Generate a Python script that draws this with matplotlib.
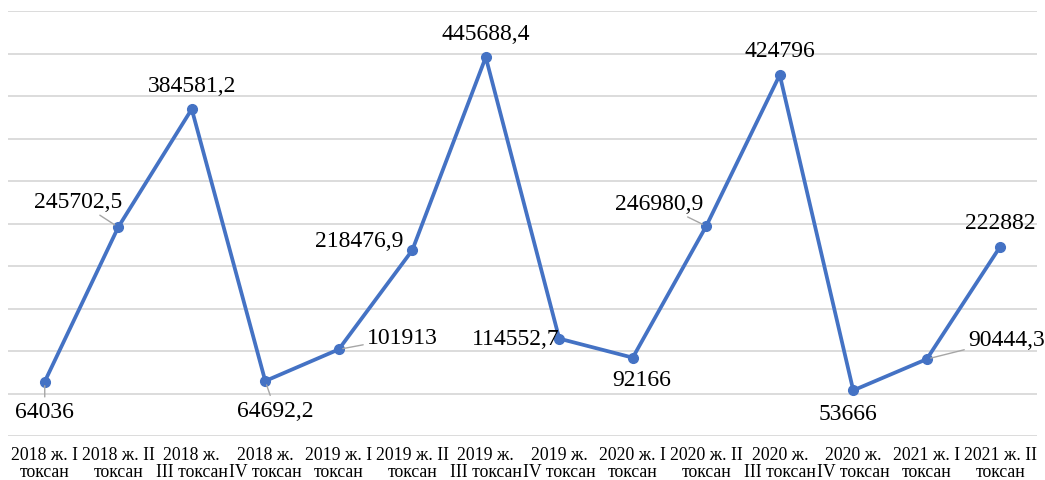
import matplotlib
matplotlib.use("Agg")
import matplotlib.pyplot as plt

plt.rcParams['font.family'] = ['Liberation Serif', 'DejaVu Serif']

categories = ["2018 ж. I\nтоксан", "2018 ж. II\nтоксан", "2018 ж.\nIII токсан", "2018 ж.\nIV токсан",
              "2019 ж. I\nтоксан", "2019 ж. II\nтоксан", "2019 ж.\nIII токсан", "2019 ж.\nIV токсан",
              "2020 ж. I\nтоксан", "2020 ж. II\nтоксан", "2020 ж.\nIII токсан", "2020 ж.\nIV токсан",
              "2021 ж. I\nтоксан", "2021 ж. II\nтоксан"]
values = [64036, 245702.5, 384581.2, 64692.2, 101913, 218476.9, 445688.4,
          114552.7, 92166, 246980.9, 424796, 53666, 90444.3, 222882]
value_labels = ["64036", "245702,5", "384581,2", "64692,2", "101913", "218476,9", "445688,4",
                "114552,7", "92166", "246980,9", "424796", "53666", "90444,3", "222882"]

# label offsets in pixels (dx, dy) and whether a leader line is drawn
offsets = [(0, -30), (-40, 26), (0, 24), (10, -29), (64, 12), (-53, 10), (0, 24),
           (-44, 0), (9, -22), (-47, 23), (0, 24), (-5, -23), (80, 20), (0, 24)]
leaders = [True, True, False, True, True, False, False,
           False, False, True, False, False, True, False]

fig = plt.figure(figsize=(10.45, 4.81), dpi=100)
ax = fig.add_axes([8/1045, (481-437)/481, (1037-8)/1045, (437-12)/481])

x = list(range(len(values)))
ax.plot(x, values, color='#4472C4', lw=2.7, marker='o', markersize=7, zorder=3,
        solid_joinstyle='round')

ax.set_xlim(-0.5, len(values) - 0.5)
ax.set_ylim(0, 500000)
ax.set_yticks(range(0, 500001, 50000))
ax.yaxis.grid(True, color='#D9D9D9', lw=1.3)
ax.set_axisbelow(True)
ax.tick_params(axis='y', left=False, labelleft=False)
ax.set_xticks(x)
ax.set_xticklabels(categories, fontsize=12.8, linespacing=1.0)
ax.tick_params(axis='x', length=0, pad=7)
for s in ax.spines.values():
    s.set_visible(False)

for i, (v, lab) in enumerate(zip(values, value_labels)):
    dx, dy = offsets[i]
    kw = {}
    if leaders[i]:
        kw['arrowprops'] = dict(arrowstyle='-', color='#A6A6A6', lw=1, shrinkA=1, shrinkB=3)
    ax.annotate(lab, xy=(i, v), xytext=(dx, dy), textcoords='offset pixels',
                ha='center', va='center', fontsize=17, color='black', zorder=4, **kw)

fig.savefig('out.png', dpi=100)
